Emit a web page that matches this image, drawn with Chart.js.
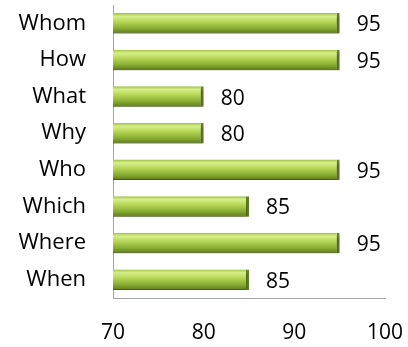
<!DOCTYPE html>
<html>
<head>
<meta charset="utf-8">
<script src="https://cdn.jsdelivr.net/npm/chart.js@4/dist/chart.umd.min.js"></script>
<style>
  html, body { margin: 0; padding: 0; background: #fff; }
  #wrap { width: 408px; height: 347px; }
</style>
</head>
<body>
<div id="wrap"><canvas id="bars" width="408" height="347"></canvas></div>
<script>
var questions = ['Whom', 'How', 'What', 'Why', 'Who', 'Which', 'Where', 'When'];
var scores = [95, 95, 80, 80, 95, 85, 95, 85];
var xTicks = [70, 80, 90, 100];

var numFont = { family: "'Open Sans', sans-serif", size: 21 };
var catFont = { family: "'Open Sans', sans-serif", size: 22 };

// green tube look: light band near the top, darker towards the bottom
function barFill(context) {
    var chart = context.chart;
    var y = chart.scales.y;
    if (!y || !chart.chartArea) return '#a6c84a';
    var mid = y.getPixelForValue(context.dataIndex);
    var half = 10;
    var g = chart.ctx.createLinearGradient(0, mid - half, 0, mid + half);
    g.addColorStop(0, '#a4c44a');
    g.addColorStop(0.15, '#d6ef8a');
    g.addColorStop(0.4, '#b8d858');
    g.addColorStop(0.75, '#88ac32');
    g.addColorStop(1, '#5e7c1c');
    return g;
}

var barShadow = {
    id: 'barShadow',
    beforeDatasetsDraw: function(chart) {
        var ctx = chart.ctx;
        ctx.save();
        ctx.shadowColor = 'rgba(0,0,0,0.35)';
        ctx.shadowBlur = 4;
        ctx.shadowOffsetX = 1;
        ctx.shadowOffsetY = 3;
    },
    afterDatasetsDraw: function(chart) {
        chart.ctx.restore();
    }
};

// value text just past the end of each bar
var valueLabels = {
    id: 'valueLabels',
    afterDraw: function(chart) {
        var ctx = chart.ctx;
        var meta = chart.getDatasetMeta(0);
        ctx.save();
        ctx.font = numFont.size + 'px ' + numFont.family;
        ctx.fillStyle = '#000';
        ctx.textAlign = 'left';
        ctx.textBaseline = 'middle';
        meta.data.forEach(function(bar, i) {
            ctx.fillText(scores[i], bar.x + 17, bar.y + 2);
        });
        ctx.restore();
    }
};

new Chart(document.getElementById('bars'), {
    type: 'bar',
    data: {
        labels: questions,
        datasets: [{
            data: scores,
            backgroundColor: barFill,
            borderColor: '#6a8824',
            borderWidth: { right: 3, top: 0, bottom: 1, left: 0 },
            borderSkipped: false,
            categoryPercentage: 1,
            barPercentage: 0.56
        }]
    },
    options: {
        indexAxis: 'y',
        responsive: false,
        animation: false,
        layout: { padding: { top: 5, right: 23, bottom: 0, left: 0 } },
        plugins: {
            legend: { display: false },
            tooltip: { enabled: false }
        },
        scales: {
            x: {
                min: 70,
                max: 100,
                afterBuildTicks: function(scale) {
                    scale.ticks = xTicks.map(function(v) { return { value: v }; });
                },
                afterFit: function(scale) {
                    scale.height = 49;
                    scale.paddingLeft = 0;
                    scale.paddingRight = 0;
                },
                grid: { display: false, drawTicks: false },
                border: { color: '#a6a6a6', width: 1 },
                ticks: { color: '#000', font: numFont, padding: 22, maxRotation: 0 }
            },
            y: {
                afterFit: function(scale) {
                    scale.width = 113;
                    scale.paddingTop = 0;
                    scale.paddingBottom = 0;
                },
                grid: { display: false, drawTicks: false },
                border: { color: '#a6a6a6', width: 1 },
                ticks: { color: '#000', font: catFont, padding: 27 }
            }
        }
    },
    plugins: [barShadow, valueLabels]
});
</script>
</body>
</html>
